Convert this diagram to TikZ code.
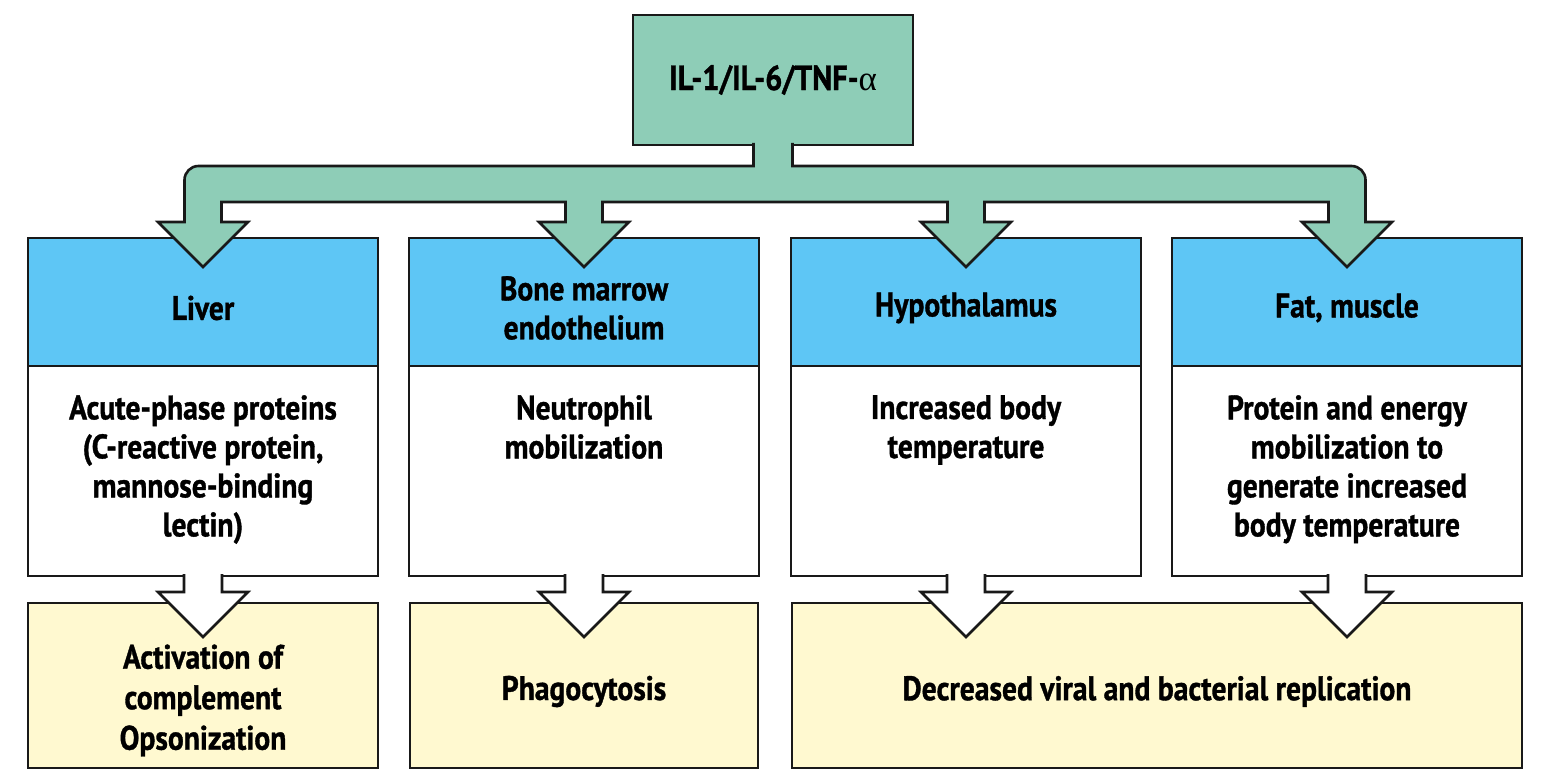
\documentclass[tikz,border=0pt]{standalone}
\usepackage{fontspec}
\setmainfont{PT Sans}[FakeStretch=0.87,BoldFeatures={FakeBold=1}]
\newfontfamily\greekfont{Liberation Serif}
\usepackage{tikz}
\usetikzlibrary{calc,positioning}
\definecolor{cytgreen}{RGB}{142,205,183}
\definecolor{cytblue}{RGB}{94,198,245}
\definecolor{cytyellow}{RGB}{255,249,208}
\tikzset{
 cyt line/.style={line width=2.6pt,draw=black!90},
 cyt top/.style={cyt line,rectangle,fill=cytgreen,minimum width=280pt,minimum height=130pt,
                 inner sep=0pt,outer sep=0pt,font=\bfseries\fontsize{35}{42}\selectfont},
 cyt head/.style={cyt line,rectangle,fill=cytblue,minimum width=350pt,minimum height=128pt,
                  inner sep=0pt,outer sep=0pt},
 cyt body/.style={cyt line,rectangle,fill=white,minimum width=350pt,minimum height=210pt,
                  inner sep=0pt,outer sep=0pt},
 cyt result/.style={cyt line,rectangle,fill=cytyellow,minimum height=165pt,
                    inner sep=0pt,outer sep=0pt},
 cyt text/.style={inner sep=0pt,align=center,font=\bfseries\fontsize{34}{39}\selectfont},
 cyt tree/.style={cyt line,fill=cytgreen},
 cyt out/.style={cyt line,fill=white}
}
\begin{document}
\begin{tikzpicture}[x=1pt,y=1pt]
 \useasboundingbox (0,0) rectangle (1554,782);
 \node[cyt top] (il) at (773,702) {IL-1/IL-6/TNF-{\mdseries\greekfont α}};

 \node[cyt head] (h1) at (203,480) {};
 \node[cyt head] (h2) at (584,480) {};
 \node[cyt head] (h3) at (966,480) {};
 \node[cyt head] (h4) at (1347,480) {};
 \node[cyt text] (n1) at ([yshift=-6pt]h1.center) {Liver};
 \node[cyt text] (n2) at ([yshift=-6pt]h2.center) {Bone marrow\\endothelium};
 \node[cyt text] (n3) at ([yshift=-6pt]h3.center) {Hypothalamus};
 \node[cyt text] (n4) at ([yshift=-6pt]h4.center) {Fat, muscle};

 \node[cyt body] (b1) at (203,311) {};
 \node[cyt body] (b2) at (584,311) {};
 \node[cyt body] (b3) at (966,311) {};
 \node[cyt body] (b4) at (1347,311) {};
 \node[cyt text,below=29pt of b1.north] (t1) {Acute-phase proteins\\(C-reactive protein,\\mannose-binding\\lectin)};
 \node[cyt text,below=29pt of b2.north] (t2) {Neutrophil\\mobilization};
 \node[cyt text,below=29pt of b3.north] (t3) {Increased body\\temperature};
 \node[cyt text,below=29pt of b4.north] (t4) {Protein and energy\\mobilization to\\generate increased\\body temperature};

 \node[cyt result,minimum width=350pt] (r1) at (203,96.5) {};
 \node[cyt result,minimum width=348pt] (r2) at (584,96.5) {};
 \node[cyt result,minimum width=730pt] (r3) at (1157,96.5) {};
 \node[cyt text,font=\bfseries\fontsize{34}{40.5}\selectfont] (s1) at ([yshift=-15pt]r1.center) {Activation of\\complement\\Opsonization};
 \node[cyt text] (s2) at ([yshift=-6pt]r2.center) {Phagocytosis};
 \node[cyt text] (s3) at ([yshift=-6pt]r3.center) {Decreased viral and bacterial replication};

 % branching arrow
 \draw[cyt tree] ([xshift=-19.5pt,yshift=2pt]il.south) -- (753.5,616) -- (198.5,616)
   arc[start angle=90,end angle=180,radius=14] -- (184.5,560) -- (158,560) -- (203,515)
   -- (248,560) -- (221.5,560) -- (221.5,580) -- (565.5,580) -- (565.5,560) -- (539,560)
   -- (584,515) -- (629,560) -- (602.5,560) -- (602.5,580) -- (947.5,580) -- (947.5,560)
   -- (921,560) -- (966,515) -- (1011,560) -- (984.5,560) -- (984.5,580) -- (1328.5,580)
   -- (1328.5,560) -- (1302,560) -- (1347,515) -- (1392,560) -- (1365.5,560) -- (1365.5,602)
   arc[start angle=0,end angle=90,radius=14] -- (792.5,616) -- ([xshift=19.5pt,yshift=2pt]il.south);

 \foreach \c in {1,...,4}
  \draw[cyt out] ([xshift=-19pt,yshift=2pt]b\c.south) -- ++(0,-18) -- ++(-26,0) -- ++(45,-45)
    -- ++(45,45) -- ++(-26,0) -- ++(0,18);
\end{tikzpicture}
\end{document}
